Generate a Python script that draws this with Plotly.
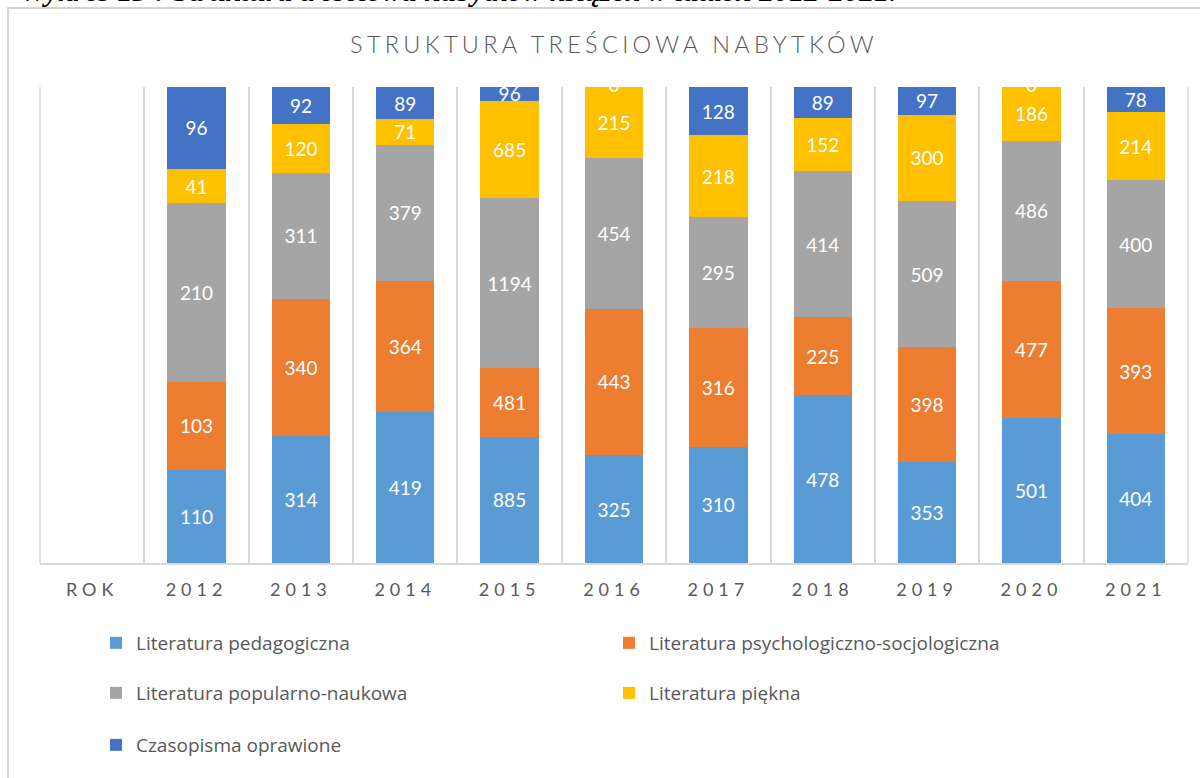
import plotly.graph_objects as go

# ---- data ----
categories = ["ROK", "2012", "2013", "2014", "2015", "2016", "2017", "2018", "2019", "2020", "2021"]
series_names = [
    "Literatura pedagogiczna",
    "Literatura psychologiczno-socjologiczna",
    "Literatura popularno-naukowa",
    "Literatura piękna",
    "Czasopisma oprawione",
]
pedagogiczna = [None, 110, 314, 419, 885, 325, 310, 478, 353, 501, 404]
psychologiczna = [None, 103, 340, 364, 481, 443, 316, 225, 398, 477, 393]
popularno = [None, 210, 311, 379, 1194, 454, 295, 414, 509, 486, 400]
piekna = [None, 41, 120, 71, 685, 215, 218, 152, 300, 186, 214]
czasopisma = [None, 96, 92, 89, 96, 0, 128, 89, 97, 0, 78]

colors = ["#5B9BD5", "#ED7D31", "#A5A5A5", "#FFC000", "#4472C4"]
legend_ids = ["legend", "legend", "legend2", "legend2", "legend3"]

title_text = "STRUKTURA TREŚCIOWA NABYTKÓW"
caption_text = "Wykres 13 : Struktura treściowa nabytków książek w latach 2012-2021."

# ---- layout geometry (pixels) ----
W, H = 1200, 778
L, R, T, B = 40, 12, 87, 215
plot_w = W - L - R
plot_h = H - T - B


def py(px):  # pixel y -> paper y
    return (H - B - px) / plot_h


def pxx(px):  # pixel x -> paper x
    return (px - L) / plot_w


fig = go.Figure()
all_series = [pedagogiczna, psychologiczna, popularno, piekna, czasopisma]
for name, vals, col, lg in zip(series_names, all_series, colors, legend_ids):
    fig.add_trace(go.Bar(
        x=categories, y=vals, name=name,
        marker=dict(color=col, line=dict(width=0)),
        text=[("" if (v is None or v == 0) else str(v)) for v in vals],
        textposition="inside", insidetextanchor="middle", textangle=0,
        textfont=dict(color="white", size=19, family="Lato"),
        cliponaxis=True, legend=lg,
    ))

# labels for zero-valued top segments (drawn at the top of the stack)
zero_x, zero_y, zero_t = [], [], []
for i, c in enumerate(categories):
    vals = [s[i] for s in all_series]
    if vals[0] is None:
        continue
    total = sum(vals)
    if czasopisma[i] == 0:
        zero_x.append(c)
        zero_y.append((total - czasopisma[i] / 2) / total * 100)
        zero_t.append(str(czasopisma[i]))
fig.add_trace(go.Scatter(
    x=zero_x, y=zero_y, text=zero_t, mode="text", textposition="middle center",
    textfont=dict(color="white", size=19, family="Lato"),
    showlegend=False, cliponaxis=True, hoverinfo="skip",
))

ticktext = ['<span style="letter-spacing:5px">%s</span>' % c for c in categories]

legend_font = dict(size=19, color="#595959", family="Open Sans")
leg_common = dict(orientation="h", x=pxx(96), xanchor="left", yanchor="middle",
                  entrywidth=468, entrywidthmode="pixels", traceorder="normal",
                  font=legend_font, bgcolor="rgba(0,0,0,0)")

grid_col = "#D9D9D9"

fig.update_layout(
    width=W, height=H,
    margin=dict(l=L, r=R, t=T, b=B, autoexpand=False),
    barmode="stack", barnorm="percent", bargap=0.44,
    paper_bgcolor="white", plot_bgcolor="white",
    uniformtext=dict(minsize=19, mode="show"),
    font=dict(family="Lato", color="#595959"),
    title=dict(
        text='<span style="letter-spacing:4.3px">%s</span>' % title_text,
        x=0.5, xref="paper", xanchor="center",
        y=1 - 45 / H, yanchor="middle",
        font=dict(size=23.5, color="#595959", family="Lato", weight=300),
    ),
    xaxis=dict(
        type="category", categoryorder="array", categoryarray=categories,
        tickmode="array", tickvals=categories, ticktext=ticktext,
        tickson="boundaries", showgrid=True, gridcolor=grid_col, gridwidth=1.5,
        showline=True, linecolor=grid_col, linewidth=1.5,
        ticks="", tickfont=dict(size=18, color="#595959", family="Lato"),
        ticklabelstandoff=10, zeroline=False,
    ),
    yaxis=dict(range=[0, 100], visible=False, fixedrange=True),
    legend=dict(y=py(643), **leg_common),
    legend2=dict(y=py(693), **leg_common),
    legend3=dict(y=py(745), **leg_common),
    shapes=[
        dict(type="rect", xref="paper", yref="paper",
             x0=pxx(8), x1=pxx(1215), y0=py(800), y1=py(8),
             line=dict(color="#D4D4D4", width=2), fillcolor="rgba(0,0,0,0)", layer="below"),
        dict(type="line", xref="paper", yref="paper", x0=0, x1=0, y0=0, y1=1,
             line=dict(color=grid_col, width=1.5), layer="below"),
        dict(type="line", xref="paper", yref="paper", x0=1, x1=1, y0=0, y1=1,
             line=dict(color=grid_col, width=1.5), layer="below"),
    ],
    annotations=[dict(text="<b><i>%s</i></b>" % caption_text, xref="paper", yref="paper",
                      x=pxx(18), xanchor="left", y=py(9), yanchor="bottom",
                      showarrow=False,
                      font=dict(size=30, color="black", family="Liberation Serif"))],
)

fig.write_html("out.html", config={"displayModeBar": False},
               post_script="document.body.style.margin='0px';")
